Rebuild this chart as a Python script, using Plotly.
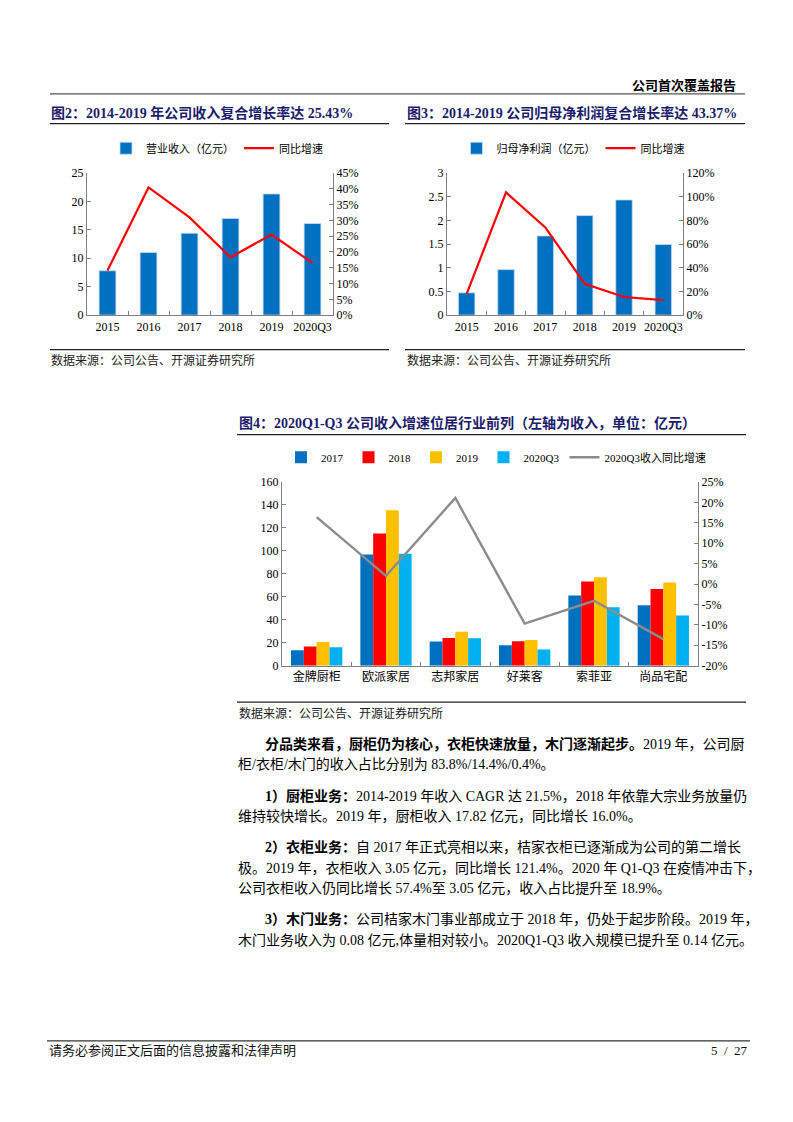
import plotly.graph_objects as go

W, H = 793, 1122

# ---------------- data ----------------
years = ["2015", "2016", "2017", "2018", "2019", "2020Q3"]
revenue = [7.8, 11.0, 14.4, 17.0, 21.3, 16.1]           # 营业收入（亿元）
revenue_yoy = [14.1, 40.4, 30.9, 18.3, 25.5, 16.5]      # 同比增速 %
profit = [0.47, 0.96, 1.67, 2.10, 2.43, 1.49]           # 归母净利润（亿元）
profit_yoy = [18.0, 103.5, 74.0, 26.5, 15.3, 12.6]      # 同比增速 %

companies = ["金牌厨柜", "欧派家居", "志邦家居", "好莱客", "索菲亚", "尚品宅配"]
rev_2017 = [13.5, 96.8, 21.0, 17.8, 61.2, 52.6]
rev_2018 = [16.7, 115.2, 24.1, 21.3, 73.3, 66.7]
rev_2019 = [20.7, 135.3, 29.6, 22.4, 77.0, 72.4]
rev_2020q3 = [16.1, 97.4, 23.8, 14.1, 50.9, 43.7]
yoy_2020q3 = [16.4, 2.0, 21.1, -9.7, -4.1, -13.5]       # %

left1_ticks = [0, 5, 10, 15, 20, 25]
right1_ticks = [0, 5, 10, 15, 20, 25, 30, 35, 40, 45]
left2_ticks = [0, 0.5, 1, 1.5, 2, 2.5, 3]
left2_text = ["0", "0.5", "1", "1.5", "2", "2.5", "3"]
right2_ticks = [0, 20, 40, 60, 80, 100, 120]
left3_ticks = [0, 20, 40, 60, 80, 100, 120, 140, 160]
right3_ticks = [-20, -15, -10, -5, 0, 5, 10, 15, 20, 25]

# ---------------- style ----------------
SERIF = "Liberation Serif, Noto Sans CJK SC"
NAVY = "#1c1c6b"
BLUE = "#0070C0"
RED = "#FF0000"
GOLD = "#FFC000"
CYAN = "#00B0F0"
GRAY_LINE = "#8C8C8C"
AX = "#7f7f7f"


def px(x):
    return x / W


def py(y):
    return 1 - y / H


fig = go.Figure()

# ---- chart 1 ----
fig.add_trace(go.Bar(x=years, y=revenue, name="营业收入（亿元）", marker_color=BLUE,
                     marker_line=dict(color="#c9dcef", width=0.8), width=0.41,
                     xaxis="x", yaxis="y", legend="legend"))
fig.add_trace(go.Scatter(x=years, y=revenue_yoy, name="同比增速", mode="lines",
                         line=dict(color=RED, width=2.2), xaxis="x", yaxis="y2", legend="legend"))

# ---- chart 2 ----
fig.add_trace(go.Bar(x=years, y=profit, name="归母净利润（亿元）", marker_color=BLUE,
                     marker_line=dict(color="#c9dcef", width=0.8), width=0.42,
                     xaxis="x2", yaxis="y3", legend="legend2"))
fig.add_trace(go.Scatter(x=years, y=profit_yoy, name="同比增速", mode="lines",
                         line=dict(color=RED, width=2.2), xaxis="x2", yaxis="y4", legend="legend2"))

# ---- chart 3 ----
bw = 0.185
for i, (nm, vals, col) in enumerate([("2017", rev_2017, BLUE), ("2018", rev_2018, RED),
                                      ("2019", rev_2019, GOLD), ("2020Q3", rev_2020q3, CYAN)]):
    fig.add_trace(go.Bar(x=companies, y=vals, name=nm, marker_color=col,
                         marker_line=dict(width=0), width=bw, offset=-2 * bw + i * bw,
                         xaxis="x3", yaxis="y5", legend="legend3"))
fig.add_trace(go.Scatter(x=companies, y=yoy_2020q3, name="2020Q3收入同比增速", mode="lines",
                         line=dict(color=GRAY_LINE, width=2.4), xaxis="x3", yaxis="y6",
                         legend="legend3"))

tickfont = dict(family=SERIF, size=12, color="#000")
common_y = dict(showgrid=False, zeroline=False, showline=True, linecolor=AX, linewidth=1.2,
                ticks="inside", ticklen=4, tickcolor=AX, tickfont=tickfont, fixedrange=True)
common_x = dict(showgrid=False, zeroline=False, showline=True, linecolor=AX, linewidth=1.2,
                ticks="inside", ticklen=4, tickcolor=AX, tickson="boundaries",
                tickfont=tickfont, type="category", tickangle=0)

c1x = [px(87), px(333)]
c2x = [px(447), px(683)]
c12y = [py(312), py(168)]
c3x = [px(282), px(698)]
c3y = [py(667), py(481)]

fig.update_layout(
    width=W, height=H, margin=dict(l=0, r=0, t=0, b=0),
    paper_bgcolor="white", plot_bgcolor="white",
    barmode="group", showlegend=True,
    font=dict(family=SERIF, color="#000"),
    xaxis=dict(domain=c1x, anchor="y", **common_x),
    yaxis=dict(domain=c12y, anchor="x", range=[0, 25], tickvals=left1_ticks, **common_y),
    yaxis2=dict(overlaying="y", side="right", anchor="x", range=[0, 45],
                tickvals=right1_ticks, ticktext=[f"{v}%" for v in right1_ticks], **common_y),
    xaxis2=dict(domain=c2x, anchor="y3", **common_x),
    yaxis3=dict(domain=c12y, anchor="x2", range=[0, 3], tickvals=left2_ticks,
                ticktext=left2_text, **common_y),
    yaxis4=dict(overlaying="y3", side="right", anchor="x2", range=[0, 120],
                tickvals=right2_ticks, ticktext=[f"{v}%" for v in right2_ticks], **common_y),
    xaxis3=dict(domain=c3x, anchor="y5", **common_x),
    yaxis5=dict(domain=c3y, anchor="x3", range=[0, 160], tickvals=left3_ticks, **common_y),
    yaxis6=dict(overlaying="y5", side="right", anchor="x3", range=[-20, 25],
                tickvals=right3_ticks, ticktext=[f"{v}%" for v in right3_ticks], **common_y),
    legend=dict(orientation="h", x=px(217), xanchor="center", y=py(143), yanchor="middle",
                font=dict(size=11, family=SERIF), bgcolor="rgba(0,0,0,0)",
                itemwidth=30, tracegroupgap=0),
    legend2=dict(orientation="h", x=px(573), xanchor="center", y=py(143), yanchor="middle",
                 font=dict(size=11, family=SERIF), bgcolor="rgba(0,0,0,0)",
                 itemwidth=30),
    legend3=dict(orientation="h", x=px(496), xanchor="center", y=py(456), yanchor="middle",
                 font=dict(size=11, family=SERIF), bgcolor="rgba(0,0,0,0)",
                 itemwidth=30),
)

# ---------------- page furniture ----------------
shapes = []


def hline(y, x0, x1, w=1.3, c="#222"):
    shapes.append(dict(type="line", xref="paper", yref="paper", x0=px(x0), x1=px(x1),
                       y0=py(y), y1=py(y), line=dict(color=c, width=w)))


hline(88, 50, 745, 1.3, "#555")
hline(118, 50, 389)
hline(118, 405, 745)
hline(347, 50, 389)
hline(347, 405, 745)
hline(433, 237, 746)
hline(704, 237, 746)
hline(1047, 47, 750, 1.3, "#333")
fig.update_layout(shapes=shapes)

ann = []


def text(x, y, s, size=12, color="#000", anchor="left", bold=False):
    ann.append(dict(xref="paper", yref="paper", x=px(x), y=py(y), xanchor=anchor,
                    yanchor="middle", showarrow=False,
                    text=f"<b>{s}</b>" if bold else s,
                    font=dict(family=SERIF, size=size, color=color)))


text(738, 79, "公司首次覆盖报告", 13, "#000", "right", True)
text(49, 107, "图2：2014-2019 年公司收入复合增长率达 25.43%", 14, NAVY, "left", True)
text(405, 107, "图3：2014-2019 公司归母净利润复合增长率达 43.37%", 14, NAVY, "left", True)
text(237, 421, "图4：2020Q1-Q3 公司收入增速位居行业前列（左轴为收入，单位：亿元）", 14, NAVY, "left", True)
src = "数据来源：公司公告、开源证券研究所"
text(49, 358, src, 12, "#222")
text(405, 358, src, 12, "#222")
text(237, 715, src, 12, "#222")

body = [
    (263, 746, "<b>分品类来看，厨柜仍为核心，衣柜快速放量，木门逐渐起步。</b>2019 年，公司厨"),
    (236, 767, "柜/衣柜/木门的收入占比分别为 83.8%/14.4%/0.4%。"),
    (263, 799, "<b>1）厨柜业务：</b>2014-2019 年收入 CAGR 达 21.5%，2018 年依靠大宗业务放量仍"),
    (236, 820, "维持较快增长。2019 年，厨柜收入 17.82 亿元，同比增长 16.0%。"),
    (263, 851, "<b>2）衣柜业务：</b>自 2017 年正式亮相以来，桔家衣柜已逐渐成为公司的第二增长"),
    (236, 872, "极。2019 年，衣柜收入 3.05 亿元，同比增长 121.4%。2020 年 Q1-Q3 在疫情冲击下，"),
    (236, 893, "公司衣柜收入仍同比增长 57.4%至 3.05 亿元，收入占比提升至 18.9%。"),
    (263, 924, "<b>3）木门业务：</b>公司桔家木门事业部成立于 2018 年，仍处于起步阶段。2019 年，"),
    (236, 945, "木门业务收入为 0.08 亿元,体量相对较小。2020Q1-Q3 收入规模已提升至 0.14 亿元。"),
]
for x, y, s in body:
    text(x, y, s, 14)

text(47, 1057, "请务必参阅正文后面的信息披露和法律声明", 13, "#111")
text(750, 1057, "5  /  27", 13, "#111", "right")

fig.update_layout(annotations=ann)

fig.write_html("out.html", config={"displayModeBar": False, "staticPlot": True},
               post_script="document.body.style.margin='0';document.body.style.overflow='hidden';")
